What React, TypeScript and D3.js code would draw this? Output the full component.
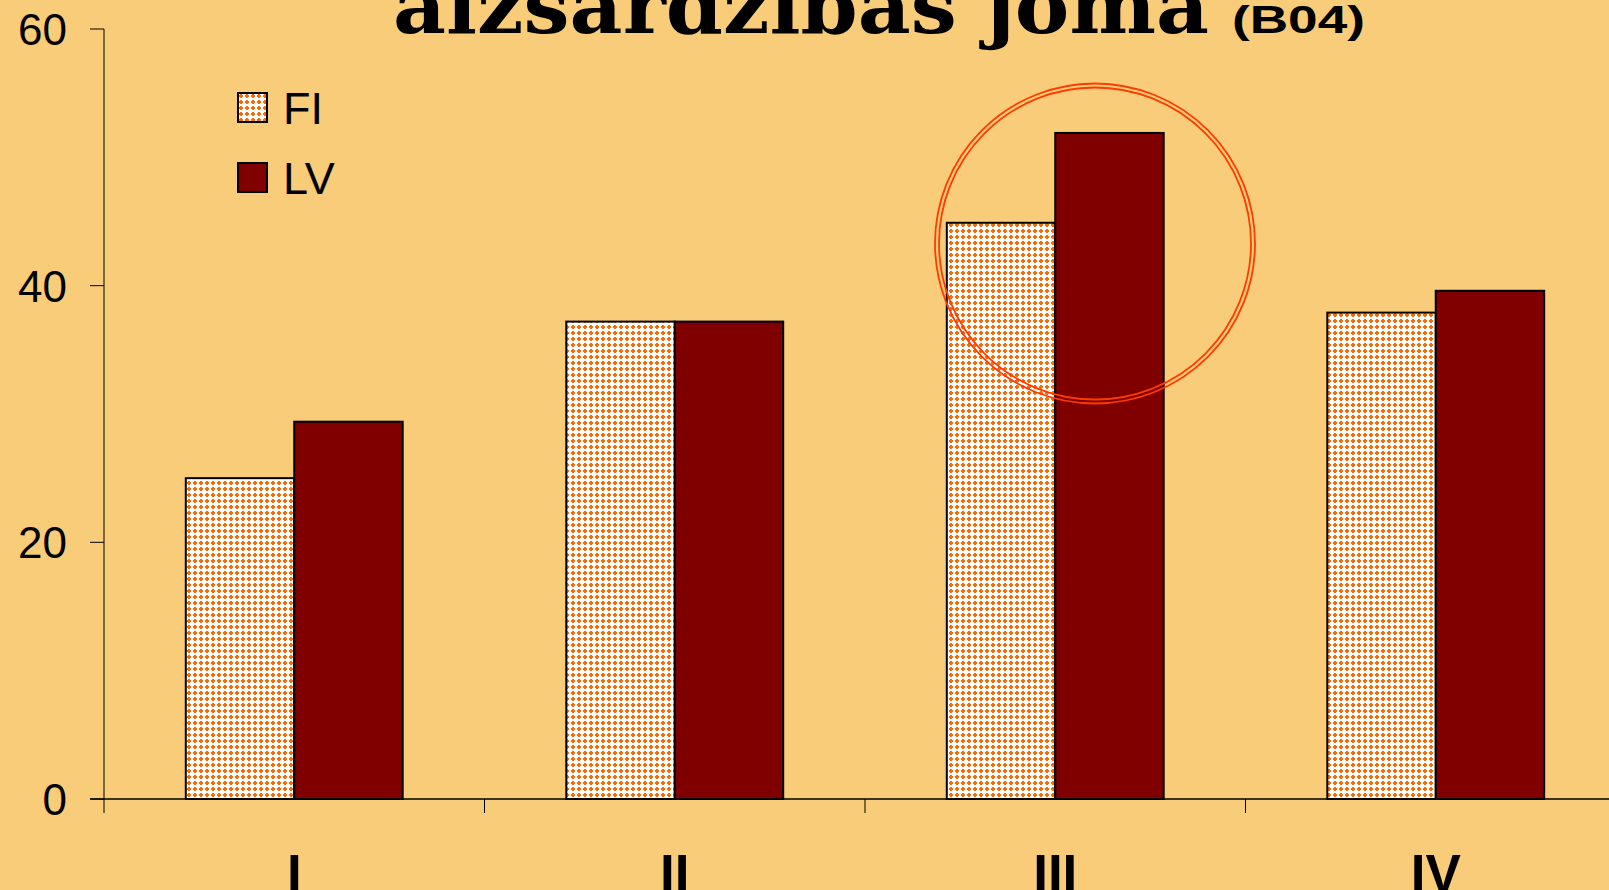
import React from "react";
import * as d3 from "d3";

const categories = ["I", "II", "III", "IV"];
const seriesNames = ["FI", "LV"];
const fiValues = [25.0, 37.2, 44.9, 37.9];
const lvValues = [29.4, 37.2, 51.9, 39.6];
const yTicks = [0, 20, 40, 60];

const W = 1609;
const H = 890;

export default function App() {
  const left = 104;
  const top = 29;
  const bottom = 799;
  const catStep = 380.5;

  const x = d3
    .scaleBand()
    .domain(categories)
    .range([left, left + catStep * categories.length])
    .paddingInner(0.43)
    .paddingOuter(0.215);

  const xs = d3.scaleBand().domain(seriesNames).range([0, x.bandwidth()]);

  const y = d3.scaleLinear().domain([0, 60]).range([bottom, top]);

  const rows = categories.map((c, i) => ({ c, FI: fiValues[i], LV: lvValues[i] }));

  const fills: Record<string, string> = { FI: "url(#dots)", LV: "#800000" };

  // category boundaries for the x ticks
  const bounds = categories.map((c) => x(c)! - (x.step() * x.paddingInner()) / 2);

  return (
    <svg
      width={W}
      height={H}
      style={{ position: "absolute", left: 0, top: 0, background: "#F8CC78" }}
    >
      <defs>
        <pattern id="dots" width="6" height="6" patternUnits="userSpaceOnUse">
          <rect width="6" height="6" fill="#ffffff" />
          <rect x="1" y="2" width="4" height="2" fill="#FF6A00" />
          <rect x="2" y="1" width="2" height="4" fill="#FF6A00" />
        </pattern>
      </defs>
      <rect width={W} height={H} fill="#F8CC78" />

      {/* title, cut off at the top */}
      <text
        x={393}
        y={33}
        fontFamily="'DejaVu Serif', serif"
        fontWeight="bold"
        fontSize={76}
        textLength={816}
        lengthAdjust="spacingAndGlyphs"
        fill="#000"
      >
        aizsardzības joma
      </text>
      <text
        x={1232}
        y={33}
        fontFamily="'Liberation Sans', Arial, sans-serif"
        fontWeight="bold"
        fontSize={39}
        textLength={133}
        lengthAdjust="spacingAndGlyphs"
        fill="#000"
      >
        (B04)
      </text>

      {/* bars */}
      {rows.map((r) =>
        seriesNames.map((s) => {
          const v = (r as any)[s] as number;
          return (
            <rect
              key={r.c + s}
              x={x(r.c)! + xs(s)!}
              y={y(v)}
              width={xs.bandwidth()}
              height={y(0) - y(v)}
              fill={fills[s]}
              stroke="#000"
              strokeWidth={2}
            />
          );
        })
      )}

      {/* y axis */}
      <line x1={left} x2={left} y1={top} y2={bottom} stroke="#000" strokeWidth={1} />
      {yTicks.map((t) => (
        <g key={t}>
          <line x1={left - 14} x2={left} y1={y(t)} y2={y(t)} stroke="#000" strokeWidth={1} />
          <text
            x={67}
            y={y(t) + 16}
            textAnchor="end"
            fontFamily="'Liberation Sans', Arial, sans-serif"
            fontSize={44}
            fill="#000"
          >
            {t}
          </text>
        </g>
      ))}

      {/* x axis */}
      <line x1={left - 14} x2={W} y1={bottom} y2={bottom} stroke="#000" strokeWidth={1.5} />
      {bounds.map((b, i) => (
        <line key={i} x1={b} x2={b} y1={bottom} y2={bottom + 14} stroke="#000" strokeWidth={1} />
      ))}
      {categories.map((c) => (
        <text
          key={c}
          x={x(c)! + x.bandwidth() / 2}
          y={892}
          textAnchor="middle"
          fontFamily="'Liberation Sans', Arial, sans-serif"
          fontWeight="bold"
          fontSize={53}
          fill="#000"
        >
          {c}
        </text>
      ))}

      {/* legend */}
      {seriesNames.map((s, i) => (
        <g key={s} transform={`translate(238, ${93 + i * 70})`}>
          <rect width={29} height={29} fill={fills[s]} stroke="#000" strokeWidth={2} />
          <text
            x={45}
            y={31}
            fontFamily="'Liberation Sans', Arial, sans-serif"
            fontSize={45}
            fill="#000"
          >
            {s}
          </text>
        </g>
      ))}

      {/* highlight circle around III */}
      <circle cx={1095} cy={243.5} r={160} fill="none" stroke="#FF3C00" strokeWidth={1.8} />
      <circle cx={1095} cy={243.5} r={156} fill="none" stroke="#FF3C00" strokeWidth={1.8} />
    </svg>
  );
}
